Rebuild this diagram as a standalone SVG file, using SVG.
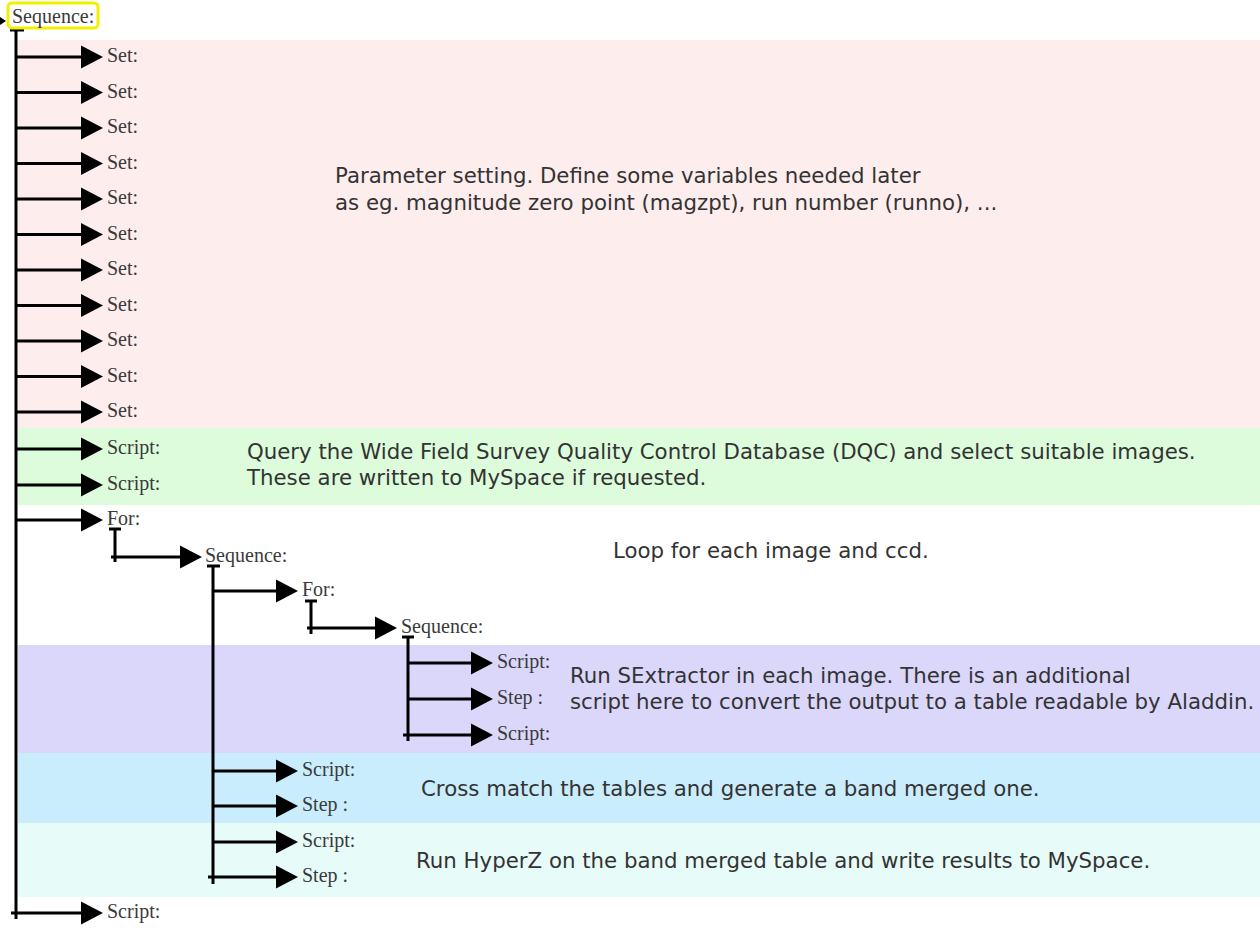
<svg xmlns="http://www.w3.org/2000/svg" width="1260" height="943" viewBox="0 0 1260 943">
<defs>
<marker id="ah" markerUnits="userSpaceOnUse" markerWidth="24" markerHeight="24" refX="12" refY="11.5" orient="auto" overflow="visible">
<path d="M0,0 L22,11.5 L0,23 z" fill="#000"/>
</marker>
<style>
.lbl{font-family:"Liberation Serif","Times New Roman",serif;font-size:20px;fill:#3a3a3a}
.txt{font-family:"DejaVu Sans",Verdana,sans-serif;font-size:21.3px;fill:#333}
.br{fill:none;stroke:#000;stroke-width:3;marker-end:url(#ah)}
.ln{fill:none;stroke:#000;stroke-width:3}
</style>
</defs>
<rect width="1260" height="943" fill="#fff"/>
<g id="bands">
<rect x="18" y="40" width="1242" height="388" fill="#fdeded"/>
<rect x="18" y="428" width="1242" height="77" fill="#dcfcdc"/>
<rect x="18" y="645" width="1242" height="108" fill="#dad7fb"/>
<rect x="18" y="753" width="1242" height="70" fill="#c9edfc"/>
<rect x="18" y="823" width="1242" height="74" fill="#e7fcf9"/>
</g>
<g id="connectors">
<path class="ln" d="M16,30 V919 M10,30 H24"/>
<path class="br" d="M16,57 H93"/>
<path class="br" d="M16,92.5 H93"/>
<path class="br" d="M16,128 H93"/>
<path class="br" d="M16,163.5 H93"/>
<path class="br" d="M16,199 H93"/>
<path class="br" d="M16,234.5 H93"/>
<path class="br" d="M16,270 H93"/>
<path class="br" d="M16,305.5 H93"/>
<path class="br" d="M16,341 H93"/>
<path class="br" d="M16,376.5 H93"/>
<path class="br" d="M16,412 H93"/>
<path class="br" d="M16,449 H93"/>
<path class="br" d="M16,485 H93"/>
<path class="br" d="M16,520 H93"/>
<path class="br" d="M11,913 H93"/>
<path class="ln" d="M109,529 H121 M115,529 V562"/>
<path class="br" d="M111,557 H192"/>
<path class="ln" d="M207,566 H220 M213,566 V884"/>
<path class="br" d="M213,591 H288"/>
<path class="ln" d="M305,601 H317 M311,601 V634"/>
<path class="br" d="M307,628 H387"/>
<path class="ln" d="M402,637 H414 M408,637 V741"/>
<path class="br" d="M408,663 H483"/>
<path class="br" d="M408,699 H483"/>
<path class="br" d="M403,735 H483"/>
<path class="br" d="M213,771 H288"/>
<path class="br" d="M213,806 H288"/>
<path class="br" d="M213,842 H288"/>
<path class="br" d="M208,877 H288"/>
<path d="M0,17 L6,21 L0,25 z" fill="#000"/>
</g>
<g id="root">
<rect x="8" y="3" width="90" height="25" rx="4" fill="#fff" stroke="#f2f000" stroke-width="3"/>
<text class="lbl" x="12" y="23">Sequence:</text>
</g>
<g id="set1"><text class="lbl" x="107" y="62">Set:</text></g>
<g id="set2"><text class="lbl" x="107" y="97.5">Set:</text></g>
<g id="set3"><text class="lbl" x="107" y="133">Set:</text></g>
<g id="set4"><text class="lbl" x="107" y="168.5">Set:</text></g>
<g id="set5"><text class="lbl" x="107" y="204">Set:</text></g>
<g id="set6"><text class="lbl" x="107" y="239.5">Set:</text></g>
<g id="set7"><text class="lbl" x="107" y="275">Set:</text></g>
<g id="set8"><text class="lbl" x="107" y="310.5">Set:</text></g>
<g id="set9"><text class="lbl" x="107" y="346">Set:</text></g>
<g id="set10"><text class="lbl" x="107" y="381.5">Set:</text></g>
<g id="set11"><text class="lbl" x="107" y="417">Set:</text></g>
<g id="script1"><text class="lbl" x="107" y="454">Script:</text></g>
<g id="script2"><text class="lbl" x="107" y="490">Script:</text></g>
<g id="for1"><text class="lbl" x="107" y="525">For:</text></g>
<g id="seq2"><text class="lbl" x="205" y="562">Sequence:</text></g>
<g id="for2"><text class="lbl" x="302" y="596">For:</text></g>
<g id="seq3"><text class="lbl" x="401" y="633">Sequence:</text></g>
<g id="script3"><text class="lbl" x="497" y="668">Script:</text></g>
<g id="step1"><text class="lbl" x="497" y="704">Step :</text></g>
<g id="script4"><text class="lbl" x="497" y="740">Script:</text></g>
<g id="script5"><text class="lbl" x="302" y="776">Script:</text></g>
<g id="step2"><text class="lbl" x="302" y="811">Step :</text></g>
<g id="script6"><text class="lbl" x="302" y="847">Script:</text></g>
<g id="step3"><text class="lbl" x="302" y="882">Step :</text></g>
<g id="script7"><text class="lbl" x="107" y="918">Script:</text></g>
<g id="notes">
<text class="txt" x="335" y="183">Parameter setting. Define some variables needed later</text>
<text class="txt" x="335" y="210">as eg. magnitude zero point (magzpt), run number (runno), ...</text>
<text class="txt" x="247" y="459">Query the Wide Field Survey Quality Control Database (DQC) and select suitable images.</text>
<text class="txt" x="247" y="485">These are written to MySpace if requested.</text>
<text class="txt" x="613" y="558">Loop for each image and ccd.</text>
<text class="txt" x="570" y="683">Run SExtractor in each image. There is an additional</text>
<text class="txt" x="570" y="709">script here to convert the output to a table readable by Aladdin.</text>
<text class="txt" x="421" y="796">Cross match the tables and generate a band merged one.</text>
<text class="txt" x="416" y="868">Run HyperZ on the band merged table and write results to MySpace.</text>
</g>
</svg>
